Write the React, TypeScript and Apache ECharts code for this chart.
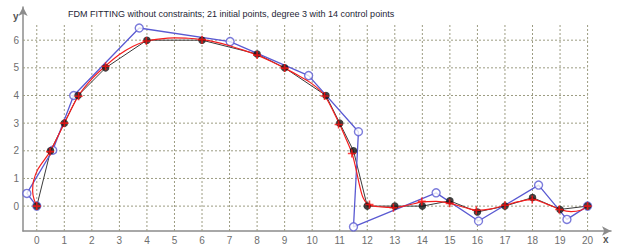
import React, { useEffect, useRef } from "react";
import * as echarts from "echarts";

const titleText =
  "FDM FITTING without constraints; 21 initial points, degree 3 with 14 control points";

const xTicks = [0, 1, 2, 3, 4, 5, 6, 7, 8, 9, 10, 11, 12, 13, 14, 15, 16, 17, 18, 19, 20];
const yTicks = [0, 1, 2, 3, 4, 5, 6];

// initial data points (black)
const dataX = [0, 0.5, 1, 1.5, 2.5, 4, 6, 8, 9, 10.5, 11, 11.5, 12, 13, 14, 15, 16, 17, 18, 19, 20];
const dataY = [0, 2, 3, 4, 5, 6, 6, 5.5, 5, 4, 3, 2, 0, 0, 0, 0.19, -0.21, 0, 0.31, -0.12, 0];

// control polygon (blue)
const ctrlX = [0, -0.36, 0.58, 1.34, 3.72, 7.02, 9.87, 11.68, 11.5, 14.5, 16.04, 18.22, 19.25, 20];
const ctrlY = [0, 0.46, 2.02, 4.0, 6.44, 5.95, 4.72, 2.69, -0.75, 0.48, -0.54, 0.76, -0.48, 0];

// fitted curve (red)
const curveX = [0, -0.1, -0.15, -0.12, 0.05, 0.48, 1, 1.5, 2, 2.5, 3, 3.5, 4, 4.5, 5, 5.5, 6, 6.5, 7, 7.5, 8, 8.5, 9, 9.5, 10, 10.45, 10.95, 11.2, 11.45, 11.6, 11.72, 11.85, 12.05, 12.5, 13, 13.5, 14, 14.5, 15, 15.5, 16, 16.5, 17, 17.5, 18, 18.5, 19, 19.4, 19.75, 20];
const curveY = [0, 0.25, 0.55, 0.9, 1.35, 1.97, 3.0, 3.97, 4.6, 5.07, 5.48, 5.78, 5.97, 6.05, 6.08, 6.07, 6.02, 5.93, 5.8, 5.64, 5.46, 5.24, 4.99, 4.72, 4.42, 4.0, 3.05, 2.5, 1.9, 1.3, 0.75, 0.3, 0.05, -0.03, -0.05, 0.04, 0.15, 0.17, 0.1, -0.04, -0.15, -0.1, 0.03, 0.16, 0.24, 0.08, -0.12, -0.2, -0.15, 0];

// fitted points (red crosses)
const fitX = [0, 0.48, 1, 1.52, 2.5, 3.98, 6, 8, 9, 10.45, 10.96, 11.44, 12.08, 12.95, 13.98, 14.99, 15.96, 17, 17.99, 18.97, 20];
const fitY = [0, 1.97, 3.0, 3.97, 5.06, 5.97, 6.02, 5.46, 4.99, 3.98, 2.95, 1.9, 0.06, -0.06, 0.17, 0.1, -0.15, 0.03, 0.24, -0.12, 0];

const X_MIN = -0.5;
const X_MAX = 20.85;
const Y_MIN = -0.9;
const Y_MAX = 7.2;
const GRID_TOP = 6.6;
const GRID_RIGHT = 20;

const zip = (a: number[], b: number[]) => a.map((v, i) => [v, b[i]]);

const gridColor = "#9c9c82";
const blue = "#5a5ad2";

export default function App() {
  const ref = useRef<HTMLDivElement>(null);

  useEffect(() => {
    if (!ref.current) return;
    const chart = echarts.init(ref.current, null, { renderer: "svg" });

    const gridSeries: any[] = [];
    xTicks.forEach((k) => {
      gridSeries.push({
        type: "line",
        data: [[k, Y_MIN], [k, GRID_TOP]],
        symbol: "none",
        silent: true,
        lineStyle: { color: gridColor, width: 1, type: [2, 2] },
        z: 1,
      });
    });
    yTicks.forEach((k) => {
      gridSeries.push({
        type: "line",
        data: [[X_MIN, k], [GRID_RIGHT, k]],
        symbol: "none",
        silent: true,
        lineStyle: { color: gridColor, width: 1, type: [2, 2] },
        z: 1,
      });
    });

    const axisColor = "#8c8c8c";
    chart.setOption({
      animation: false,
      grid: { left: 23, right: 7, top: 7, bottom: 15, containLabel: false },
      xAxis: {
        type: "value",
        min: X_MIN,
        max: X_MAX,
        splitLine: { show: false },
        axisTick: { show: false },
        axisLine: {
          onZero: false,
          lineStyle: { color: axisColor, width: 1.5 },
          symbol: ["none", "arrow"],
          symbolSize: [7, 9],
        },
        axisLabel: {
          customValues: xTicks,
          color: "#6e6e6e",
          fontSize: 10,
          fontFamily: "Liberation Sans",
          margin: 4,
        },
      },
      yAxis: {
        type: "value",
        min: Y_MIN,
        max: Y_MAX,
        splitLine: { show: false },
        axisTick: { show: false },
        axisLine: {
          show: true,
          onZero: false,
          lineStyle: { color: axisColor, width: 1.5 },
          symbol: ["none", "arrow"],
          symbolSize: [7, 9],
        },
        axisLabel: {
          customValues: yTicks,
          color: "#6e6e6e",
          fontSize: 10,
          fontFamily: "Liberation Sans",
          margin: 4,
        },
      },
      graphic: [
        {
          type: "text",
          left: 68,
          top: 9,
          style: {
            text: titleText,
            fill: "#1e1e36",
            font: "9px 'Liberation Sans'",
          },
        },
        {
          type: "text",
          left: 13,
          top: 11,
          style: { text: "y", fill: "#555", font: "bold 10px 'Liberation Sans'" },
        },
        {
          type: "text",
          left: 603,
          top: 234,
          style: { text: "x", fill: "#555", font: "bold 10px 'Liberation Sans'" },
        },
      ],
      series: [
        ...gridSeries,
        {
          type: "line",
          name: "data",
          data: zip(dataX, dataY),
          symbol: "none",
          lineStyle: { color: "#3a3a3a", width: 1 },
          z: 3,
        },
        {
          type: "line",
          name: "control",
          data: zip(ctrlX, ctrlY),
          symbol: "none",
          lineStyle: { color: blue, width: 1.3, type: "solid" },
          z: 4,
        },
        {
          type: "scatter",
          name: "controlPts",
          data: zip(ctrlX, ctrlY),
          symbol: "circle",
          symbolSize: 8,
          itemStyle: { color: "#ffffff", borderColor: blue, borderWidth: 1.4 },
          z: 4,
        },
        {
          type: "line",
          name: "curve",
          data: zip(curveX, curveY),
          smooth: 0.3,
          symbol: "none",
          lineStyle: { color: "#f51e1e", width: 1.2 },
          z: 5,
        },
        {
          type: "scatter",
          name: "points",
          data: zip(dataX, dataY),
          symbol: "circle",
          symbolSize: 7.5,
          itemStyle: { color: "#111" },
          z: 6,
        },
        {
          type: "scatter",
          name: "fit",
          data: zip(fitX, fitY),
          symbol: "path://M3.2,0H4.8V3.2H8V4.8H4.8V8H3.2V4.8H0V3.2H3.2Z",
          symbolSize: 8,
          itemStyle: { color: "#ff1010" },
          z: 7,
        },
      ],
    });

    return () => chart.dispose();
  }, []);

  return (
    <div
      ref={ref}
      style={{ position: "fixed", left: 0, top: 0, width: 618, height: 246, background: "#fff" }}
    />
  );
}
